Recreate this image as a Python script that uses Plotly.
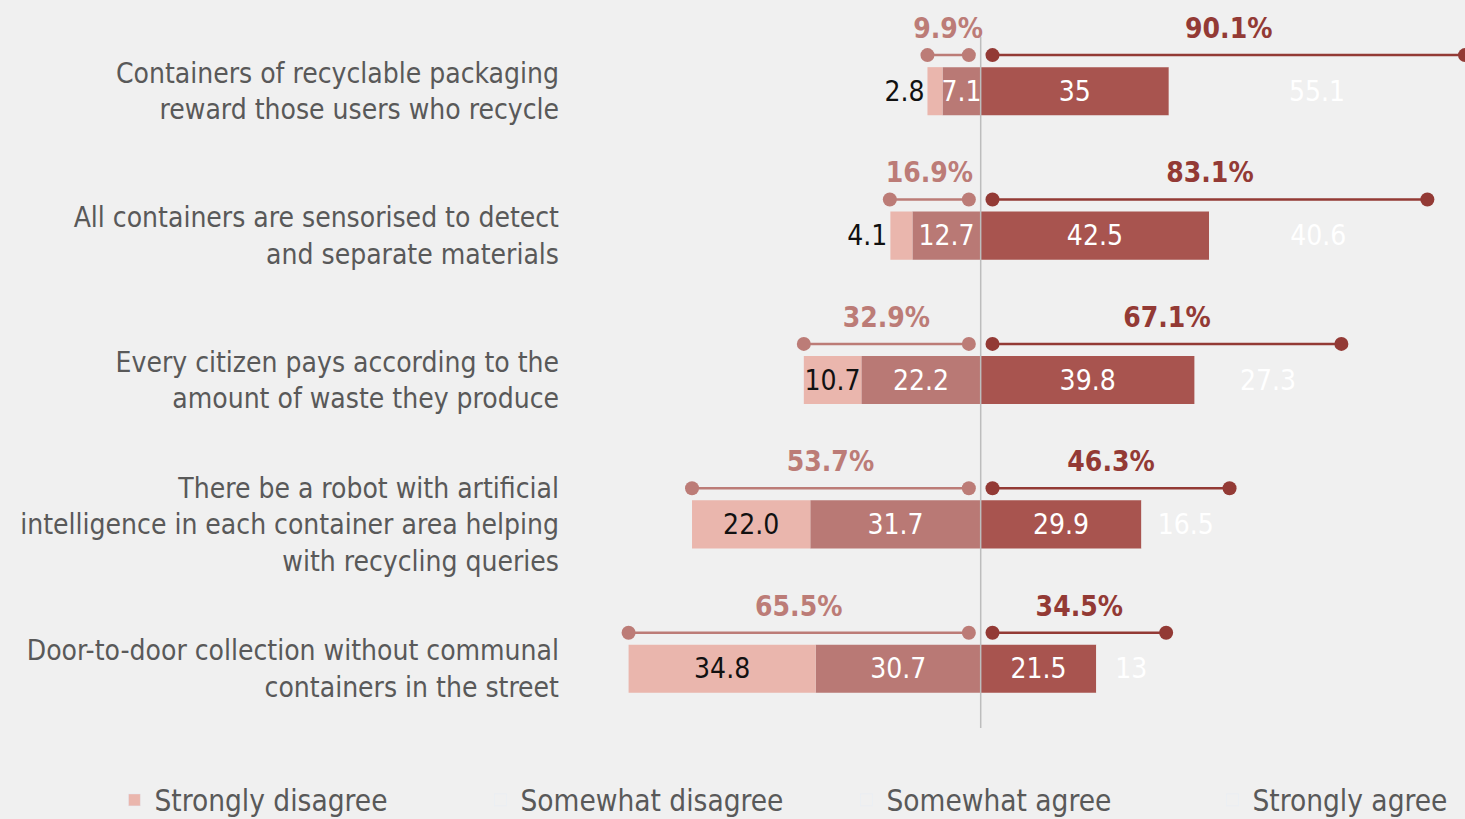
import plotly.graph_objects as go

# ---- data ----
categories = [
    "Containers of recyclable packaging<br>reward those users who recycle",
    "All containers are sensorised to detect<br>and separate materials",
    "Every citizen pays according to the<br>amount of waste they produce",
    "There be a robot with artificial<br>intelligence in each container area helping<br>with recycling queries",
    "Door-to-door collection without communal<br>containers in the street",
]
strongly_disagree = [2.8, 4.1, 10.7, 22.0, 34.8]
somewhat_disagree = [7.1, 12.7, 22.2, 31.7, 30.7]
somewhat_agree = [35, 42.5, 39.8, 29.9, 21.5]
strongly_agree = [55.1, 40.6, 27.3, 16.5, 13]
disagree_total = [9.9, 16.9, 32.9, 53.7, 65.5]
agree_total = [90.1, 83.1, 67.1, 46.3, 34.5]
series_names = ["Strongly disagree", "Somewhat disagree", "Somewhat agree", "Strongly agree"]

# ---- style ----
BG = "#f0f0f0"
C_SD = "#eab6ad"
C_WD = "#b97975"
C_WA = "#a8544f"
C_DIS_LINE = "#bc7c77"
C_AGR_LINE = "#933a35"
FONT = "DejaVu Sans Condensed, Tahoma, sans-serif"
GAP = 2.2          # gap between zero and the inner dot of summary lines
LINE_OFF = 0.25    # summary line offset above each bar (category units)
LABEL_OFF = 0.07   # extra lift of percentage labels above the summary line

ys = list(range(len(categories)))
fig = go.Figure()

common = dict(orientation="h", hoverinfo="skip", showlegend=False,
              constraintext="none", textangle=0, insidetextanchor="middle")

# somewhat disagree (closest to zero, negative)
fig.add_trace(go.Bar(
    y=ys, x=[-v for v in somewhat_disagree],
    marker=dict(color=C_WD, line=dict(width=0)),
    text=[f"{v:.1f}" for v in somewhat_disagree], textposition="inside",
    textfont=dict(color="white", size=28, family=FONT),
    name=series_names[1], **common,
))
# strongly disagree (outermost, negative)
sd_pos = ["outside" if v < 5 else "inside" for v in strongly_disagree]
fig.add_trace(go.Bar(
    y=ys, x=[-v for v in strongly_disagree],
    marker=dict(color=C_SD, line=dict(width=0)),
    text=[f"{v:.1f}" for v in strongly_disagree], textposition=sd_pos,
    textfont=dict(color="#111111", size=28, family=FONT),
    name=series_names[0], cliponaxis=False, **common,
))
# somewhat agree
fig.add_trace(go.Bar(
    y=ys, x=somewhat_agree,
    marker=dict(color=C_WA, line=dict(width=0)),
    text=[f"{v:g}" for v in somewhat_agree], textposition="inside",
    textfont=dict(color="white", size=28, family=FONT),
    name=series_names[2], **common,
))
# strongly agree (drawn in background colour)
fig.add_trace(go.Bar(
    y=ys, x=strongly_agree,
    marker=dict(color=BG, line=dict(width=0)),
    text=[f"{v:g}" for v in strongly_agree], textposition="inside",
    textfont=dict(color="white", size=28, family=FONT),
    name=series_names[3], **common,
))

# summary dot-lines
for i, (d, a) in enumerate(zip(disagree_total, agree_total)):
    yl = i - LINE_OFF
    fig.add_trace(go.Scatter(
        x=[-d, -GAP], y=[yl, yl], mode="lines+markers",
        line=dict(color=C_DIS_LINE, width=2.5), marker=dict(color=C_DIS_LINE, size=14),
        showlegend=False, hoverinfo="skip", cliponaxis=False,
    ))
    fig.add_trace(go.Scatter(
        x=[GAP, a], y=[yl, yl], mode="lines+markers",
        line=dict(color=C_AGR_LINE, width=2.5), marker=dict(color=C_AGR_LINE, size=14),
        showlegend=False, hoverinfo="skip", cliponaxis=True,
    ))

# percent labels
fig.add_trace(go.Scatter(
    x=[-(d + GAP) / 2 for d in disagree_total], y=[i - LINE_OFF - LABEL_OFF for i in ys],
    mode="text", text=[f"{d}%" for d in disagree_total], textposition="top center",
    textfont=dict(color=C_DIS_LINE, size=28, family=FONT, weight="bold"),
    showlegend=False, hoverinfo="skip", cliponaxis=False,
))
fig.add_trace(go.Scatter(
    x=[(a + GAP) / 2 for a in agree_total], y=[i - LINE_OFF - LABEL_OFF for i in ys],
    mode="text", text=[f"{a}%" for a in agree_total], textposition="top center",
    textfont=dict(color=C_AGR_LINE, size=28, family=FONT, weight="bold"),
    showlegend=False, hoverinfo="skip", cliponaxis=False,
))

# legend-only entries
legend_colors = [C_SD, "rgba(0,0,0,0)", "rgba(0,0,0,0)", "rgba(0,0,0,0)"]
for nm, col in zip(series_names, legend_colors):
    fig.add_trace(go.Bar(x=[None], y=[None], orientation="h", name=nm,
                         marker=dict(color=col), showlegend=True, hoverinfo="skip"))

# zero line
fig.add_shape(type="line", x0=0, x1=0, y0=-0.375, y1=4.41, xref="x", yref="y",
              line=dict(color="#bdbdbd", width=1.5), layer="above")

fig.update_layout(
    width=1465, height=819,
    paper_bgcolor=BG, plot_bgcolor=BG,
    barmode="relative", bargap=0.667,
    margin=dict(l=570, r=0, t=19, b=78, autoexpand=False),
    font=dict(family=FONT, color="#595959", size=28),
    xaxis=dict(range=[-76.4, 90.1], showgrid=False, zeroline=False,
               showticklabels=False, fixedrange=True),
    yaxis=dict(range=[4.5, -0.5], tickvals=ys, ticktext=categories,
               showgrid=False, zeroline=False, ticks="", ticklabelstandoff=10,
               fixedrange=True,
               tickfont=dict(size=28, color="#595959", family=FONT)),
    showlegend=True,
    legend=dict(orientation="h", x=-0.509, xanchor="left", y=-0.046, yanchor="top",
                font=dict(size=29.5, color="#595959", family=FONT),
                entrywidth=321, bgcolor="rgba(0,0,0,0)", traceorder="normal"),
)

fig.write_html("out.html", config={"displayModeBar": False},
               post_script="document.body.style.margin='0';document.body.style.overflow='hidden';")
